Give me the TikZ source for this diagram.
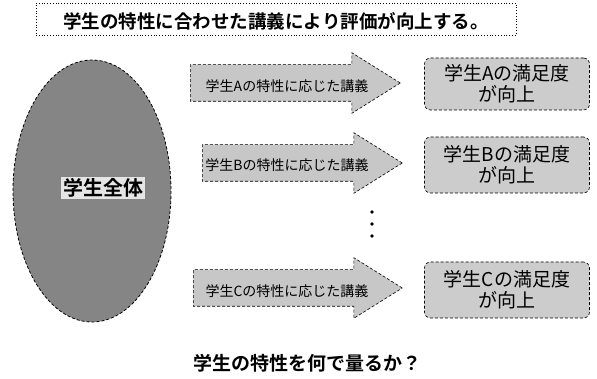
\documentclass[tikz,border=0pt]{standalone}
\usepackage{fontspec}
\newfontfamily\jp{Noto Sans CJK JP}[BoldFont={Noto Sans CJK JP Bold}]
\usetikzlibrary{shapes.arrows}
\tikzset{
  arrowshape/.style={shape=single arrow, draw=black, densely dashed, line width=0.6pt,
    fill=black!22, single arrow head extend=12pt, single arrow tip angle=64,
    single arrow head indent=0pt, inner xsep=0pt, inner ysep=18pt,
    anchor=tail},
  arrowtext/.style={font=\jp\fontsize{14pt}{15pt}\selectfont, inner sep=0pt},
  resultbox/.style={draw=black, densely dashed, line width=0.6pt, rounded corners=6pt,
    fill=black!20, minimum width=165pt, align=center,
    font=\jp\fontsize{19pt}{21pt}\selectfont, inner sep=0pt},
  dotmark/.style={circle, fill=black, inner sep=0pt, minimum size=3.6pt}
}
\begin{document}
\begin{tikzpicture}[x=1pt,y=-1pt]
\useasboundingbox[fill=white] (0,0) rectangle (597,379);
% title
\node[draw=black, dotted, line width=0.8pt, minimum width=480pt, minimum height=32pt] (titlebox) at (276,19) {};
\node[font=\jp\bfseries\fontsize{18.5pt}{20pt}\selectfont, inner sep=0pt] (title) at (276,21) {学生の特性に合わせた講義により評価が向上する。};
% ellipse
\draw[fill=black!48, draw=black, densely dashed, line width=0.8pt] (92,191) ellipse [x radius=79, y radius=131];
\node[font=\jp\bfseries\fontsize{20pt}{22pt}\selectfont, fill=black!10, inner sep=2pt] (all) at (103,188) {学生全体};
% arrows
\node[arrowshape, minimum height=210pt] (a1) at (190,83) {};
\node[arrowshape, minimum height=200pt] (a2) at (202,163) {};
\node[arrowshape, minimum height=209pt] (a3) at (193,288) {};
\node[arrowtext] (t1) at (287,86) {学生Aの特性に応じた講義};
\node[arrowtext] (t2) at (287,165) {学生Bの特性に応じた講義};
\node[arrowtext] (t3) at (287,291) {学生Cの特性に応じた講義};
% result boxes
\node[resultbox, minimum height=52pt] (b1) at (507,84) {学生Aの満足度\\が向上};
\node[resultbox, minimum height=56pt] (b2) at (507,165) {学生Bの満足度\\が向上};
\node[resultbox, minimum height=56pt] (b3) at (507,290) {学生Cの満足度\\が向上};
% vertical dots
\node[dotmark] (d1) at (372,212) {};
\node[dotmark] (d2) at (372,224) {};
\node[dotmark] (d3) at (372,236) {};
% question
\node[font=\jp\bfseries\fontsize{19pt}{20pt}\selectfont, inner sep=0pt] (q) at (307,363) {学生の特性を何で量るか？};
\end{tikzpicture}
\end{document}
